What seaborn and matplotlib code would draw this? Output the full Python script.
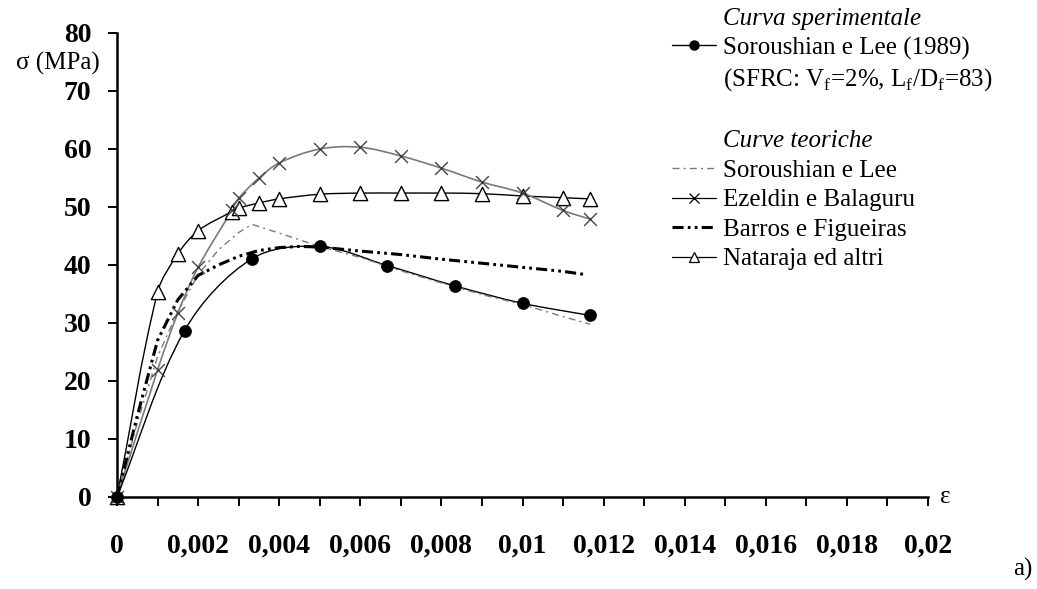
import numpy as np
import pandas as pd
import matplotlib
matplotlib.use("Agg")
import matplotlib.pyplot as plt
import seaborn as sns
from matplotlib.path import Path
from matplotlib.patches import PathPatch
from matplotlib.lines import Line2D

# ---------------------------------------------------------------- data
# Experimental curve (Soroushian e Lee, 1989)
eps_exp = [0, 0.001667, 0.003333, 0.005, 0.006667, 0.008333, 0.01, 0.011667]
sig_exp = [0, 28.7, 41.1, 43.2, 39.9, 36.4, 33.4, 31.3]

# Theoretical curves with markers share the same strain grid
eps_model = [0, 0.001, 0.0015, 0.002, 0.00283, 0.003, 0.0035, 0.004, 0.005,
             0.006, 0.007, 0.008, 0.009, 0.01, 0.011, 0.011667]
sig_ezeldin = [0, 21.9, 31.7, 39.6, 49.4, 51.5, 55.0, 57.6, 60.0,
               60.3, 58.8, 56.7, 54.3, 52.4, 49.4, 47.9]
sig_nataraja = [0, 35.3, 41.9, 45.9, 49.2, 49.8, 50.7, 51.4, 52.2,
                52.4, 52.4, 52.4, 52.3, 51.9, 51.6, 51.4]

# Soroushian e Lee model
eps_sl = [0, 0.0005, 0.001, 0.0015, 0.002, 0.0025, 0.003, 0.00333, 0.004,
          0.005, 0.006, 0.007, 0.008, 0.009, 0.01, 0.011, 0.011667]
sig_sl = [0, 12.8, 24.2, 32.0, 38.3, 42.6, 45.6, 47.0, 45.5,
          43.2, 41.3, 39.0, 36.9, 34.9, 33.2, 31.1, 29.8]

# Barros e Figueiras model
eps_bf = [0, 0.0005, 0.001, 0.0015, 0.002, 0.0025, 0.003, 0.0035, 0.004,
          0.0045, 0.005, 0.006, 0.007, 0.008, 0.009, 0.01, 0.011, 0.0115]
sig_bf = [0, 14.0, 27.0, 34.0, 38.2, 40.0, 41.5, 42.5, 43.0,
          43.2, 43.1, 42.4, 41.8, 41.0, 40.3, 39.6, 38.9, 38.4]

x_ticks = [0, 0.002, 0.004, 0.006, 0.008, 0.01, 0.012, 0.014, 0.016, 0.018, 0.02]
x_tick_labels = ["0", "0,002", "0,004", "0,006", "0,008", "0,01", "0,012",
                 "0,014", "0,016", "0,018", "0,02"]
x_minor_ticks = [0.001, 0.003, 0.005, 0.007, 0.009, 0.011, 0.013, 0.015, 0.017, 0.019]
y_ticks = [0, 10, 20, 30, 40, 50, 60, 70, 80]

legend_labels = ["Curva sperimentale",
                 "Soroushian e Lee (1989)",
                 r"(SFRC: V$_\mathrm{f}$=2%, L$_\mathrm{f}$/D$_\mathrm{f}$=83)",
                 "",
                 "Curve teoriche",
                 "Soroushian e Lee",
                 "Ezeldin e Balaguru",
                 "Barros e Figueiras",
                 "Nataraja ed altri"]

# ---------------------------------------------------------------- style
sns.set_theme(style="white")
plt.rcParams["font.family"] = ["Liberation Serif", "DejaVu Serif"]
plt.rcParams["mathtext.fontset"] = "custom"
plt.rcParams["mathtext.rm"] = "Liberation Serif"
plt.rcParams["lines.scale_dashes"] = False

GREY = "#7a7a7a"
SL_DASH = (0, (5, 3, 1.5, 3))
BF_DASH = (0, (8, 3, 2, 3, 2, 3))


def smooth_curve(ax, x, y, **kw):
    """Draw a smoothed line through the points as cubic Bezier segments.

    Tangents are built in display space and scaled by the chord lengths so
    that unevenly spaced points do not overshoot.
    """
    data = np.column_stack([x, y]).astype(float)
    pts = ax.transData.transform(data)
    n = len(pts)
    d = np.hypot(*np.diff(pts, axis=0).T)
    tang = np.zeros_like(pts)
    for i in range(n):
        if i == 0:
            tang[i] = (pts[1] - pts[0]) / d[0]
        elif i == n - 1:
            tang[i] = (pts[-1] - pts[-2]) / d[-1]
        else:
            tang[i] = (pts[i + 1] - pts[i - 1]) / (d[i - 1] + d[i])
    verts = [pts[0]]
    codes = [Path.MOVETO]
    for i in range(n - 1):
        c1 = pts[i] + tang[i] * d[i] / 3.0
        c2 = pts[i + 1] - tang[i + 1] * d[i] / 3.0
        verts += [c1, c2, pts[i + 1]]
        codes += [Path.CURVE4] * 3
    verts = ax.transData.inverted().transform(np.array(verts))
    patch = PathPatch(Path(verts, codes), fill=False, transform=ax.transData,
                      clip_on=False, **kw)
    ax.add_patch(patch)


fig = plt.figure(figsize=(10.37, 5.89), dpi=100)
W, H = 1037, 589
x0, x1, y0, y1 = 117, 928, 497, 33
ax = fig.add_axes([x0 / W, 1 - y0 / H, (x1 - x0) / W, (y0 - y1) / H])
ax.set_facecolor("none")
ax.set_xlim(0, 0.02)
ax.set_ylim(0, 80)

df_exp = pd.DataFrame({"eps": eps_exp, "sigma": sig_exp})
df_model = pd.DataFrame({"eps": eps_model, "ez": sig_ezeldin, "nat": sig_nataraja})
df_sl = pd.DataFrame({"eps": eps_sl, "sigma": sig_sl})
df_bf = pd.DataFrame({"eps": eps_bf, "sigma": sig_bf})

# models without markers
sns.lineplot(data=df_sl, x="eps", y="sigma", ax=ax, color=GREY, lw=1.0,
             linestyle=SL_DASH, sort=False, estimator=None)
sns.lineplot(data=df_bf, x="eps", y="sigma", ax=ax, color="black", lw=2.2,
             linestyle=BF_DASH, sort=False, estimator=None)
ax.set_xlim(0, 0.02)
ax.set_ylim(0, 80)

# smoothed lines of the marked series
smooth_curve(ax, eps_model, sig_nataraja, edgecolor="black", lw=1.0)
smooth_curve(ax, eps_model, sig_ezeldin, edgecolor=GREY, lw=1.2)
smooth_curve(ax, eps_exp, sig_exp, edgecolor="black", lw=1.0)

sns.scatterplot(data=df_model, x="eps", y="nat", ax=ax, marker="^", s=105,
                facecolor="white", edgecolor="black", linewidth=1.0,
                clip_on=False, zorder=4)
sns.scatterplot(data=df_model, x="eps", y="ez", ax=ax, marker="x", s=85,
                color="#444444", linewidth=1.0, clip_on=False, zorder=5)
sns.scatterplot(data=df_exp, x="eps", y="sigma", ax=ax, marker="o", s=75,
                color="black", edgecolor="black", linewidth=0.5,
                clip_on=False, zorder=6)

# ---------------------------------------------------------------- axes
ax.set_xlim(0, 0.02)
ax.set_ylim(0, 80)
ax.set_xticks(x_ticks)
ax.set_xticklabels(x_tick_labels)
ax.set_xticks(x_minor_ticks, minor=True)
ax.set_yticks(y_ticks)
ax.set_yticklabels([str(v) for v in y_ticks])
ax.set_xlabel("")
ax.set_ylabel("")
ax.grid(False)
for side in ("top", "right"):
    ax.spines[side].set_visible(False)
for side in ("left", "bottom"):
    ax.spines[side].set_linewidth(1.8)
    ax.spines[side].set_color("black")
ax.tick_params(axis="both", which="both", direction="out", length=6.5,
               width=1.4, color="black", bottom=True, left=True)
ax.tick_params(axis="x", which="major", pad=20)
ax.tick_params(axis="y", which="major", pad=12)
for lab in ax.get_xticklabels() + ax.get_yticklabels():
    lab.set_fontweight("bold")
    lab.set_fontsize(20)
    lab.set_color("black")

fig.text(100 / W, 1 - 63 / H, "σ (MPa)", ha="right", va="center",
         fontsize=18, color="black")
fig.text(940 / W, 1 - 497 / H, "ε", ha="left", va="center",
         fontsize=18, color="black")
fig.text(1032 / W, 1 - 569 / H, "a)", ha="right", va="center",
         fontsize=18, color="black")

# ---------------------------------------------------------------- legend
blank = Line2D([], [], linestyle="none")
h_exp = Line2D([], [], color="black", lw=1.0, marker="o", markersize=6.5)
h_sl = Line2D([], [], color=GREY, lw=1.0, linestyle=SL_DASH)
h_ez = Line2D([], [], color="black", lw=0.9, marker="x", markersize=7,
              markeredgewidth=0.9)
h_bf = Line2D([], [], color="black", lw=2.2, linestyle=BF_DASH)
h_nat = Line2D([], [], color="black", lw=0.9, marker="^", markersize=7,
               markerfacecolor="white", markeredgecolor="black",
               markeredgewidth=0.9)
handles = [blank, h_exp, blank, blank, blank, h_sl, h_ez, h_bf, h_nat]

leg = fig.legend(handles, legend_labels, loc="upper left",
                 bbox_to_anchor=(672 / W, 1 - 7 / H), frameon=False,
                 fontsize=18, handlelength=1.75, handletextpad=0.3,
                 labelspacing=0.28, borderpad=0, borderaxespad=0)
for i, t in enumerate(leg.get_texts()):
    t.set_color("black")
    if i in (0, 4):
        t.set_fontstyle("italic")

fig.savefig("out.png", dpi=100)
